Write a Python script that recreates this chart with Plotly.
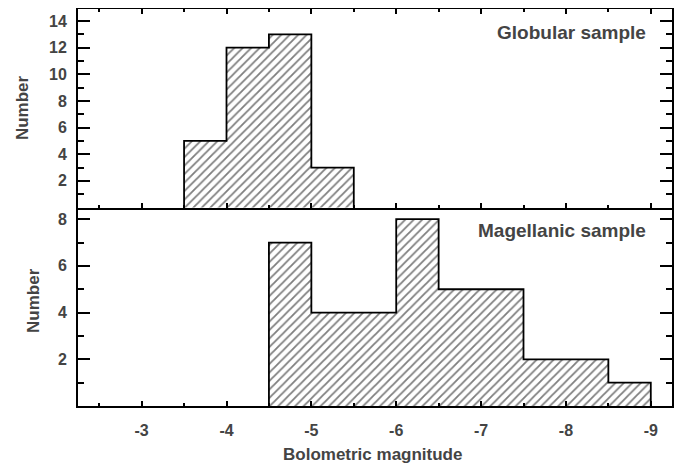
import plotly.graph_objects as go
from plotly.subplots import make_subplots

# ---- data ----
glob_edges = [-3.5, -4.0, -4.5, -5.0, -5.5]
glob_counts = [5, 12, 13, 3]
mag_edges = [-4.5, -5.0, -5.5, -6.0, -6.5, -7.0, -7.5, -8.0, -8.5, -9.0]
mag_counts = [7, 4, 4, 8, 5, 5, 2, 2, 1]
x_ticks = [-3, -4, -5, -6, -7, -8, -9]
x_ticklabels = ["-3", "-4", "-5", "-6", "-7", "-8", "-9"]
x_minor = [-2.5, -3.5, -4.5, -5.5, -6.5, -7.5, -8.5]
top_yticks = [2, 4, 6, 8, 10, 12, 14]
top_yminor = [1, 3, 5, 7, 9, 11, 13]
bot_yticks = [2, 4, 6, 8]
bot_yminor = [1, 3, 5, 7]

FONT = "Liberation Sans, Arial, Helvetica, sans-serif"
TXT = "#444444"

fig = make_subplots(rows=2, cols=1, shared_xaxes=True, vertical_spacing=0)


def add_hist(edges, counts, row):
    centers = [(a + b) / 2 for a, b in zip(edges[:-1], edges[1:])]
    fig.add_trace(go.Bar(
        x=centers, y=counts, width=0.5,
        marker=dict(color="white", line=dict(width=0),
                    pattern=dict(shape="/", fgcolor="black", bgcolor="white",
                                 size=6, solidity=0.3)),
        showlegend=False, hoverinfo="skip"), row=row, col=1)
    fig.add_trace(go.Scatter(
        x=[edges[0]] + list(edges), y=[0] + list(counts) + [0],
        mode="lines", line=dict(color="black", width=1.8, shape="hv"),
        showlegend=False, hoverinfo="skip"), row=row, col=1)


add_hist(glob_edges, glob_counts, 1)
add_hist(mag_edges, mag_counts, 2)

tickfont = dict(family=FONT, size=16, color=TXT, weight="bold")

common_x = dict(range=[-2.25, -9.25], tickvals=x_ticks, ticktext=x_ticklabels,
                ticks="inside", ticklen=5, tickwidth=1.5, tickcolor="black",
                showline=True, linecolor="black", linewidth=2,
                showgrid=False, zeroline=False,
                minor=dict(tickvals=x_minor, ticks="inside", ticklen=3,
                           tickwidth=1.5, tickcolor="black", showgrid=False))
fig.update_xaxes(**common_x, mirror="ticks", showticklabels=False, row=1, col=1)
fig.update_xaxes(**common_x, mirror=False, showticklabels=True, tickfont=tickfont,
                 ticklabelstandoff=9, row=2, col=1)

common_y = dict(ticks="inside", ticklen=12, tickwidth=1.5, tickcolor="black",
                showline=True, linecolor="black", linewidth=2, mirror="ticks",
                showgrid=False, zeroline=False, tickfont=tickfont,
                ticklabelstandoff=6)
fig.update_yaxes(**common_y, range=[0, 14.9], tickvals=top_yticks,
                 minor=dict(tickvals=top_yminor, ticks="inside", ticklen=6,
                            tickwidth=1.5, tickcolor="black", showgrid=False),
                 row=1, col=1)
fig.update_yaxes(**common_y, range=[0, 8.5], tickvals=bot_yticks,
                 minor=dict(tickvals=bot_yminor, ticks="inside", ticklen=6,
                            tickwidth=1.5, tickcolor="black", showgrid=False),
                 row=2, col=1)

ann_font = dict(family=FONT, size=19, color=TXT, weight="bold")
lab_font = dict(family=FONT, size=17, color=TXT, weight="bold")
# page body has an 8px margin, so the figure is shrunk by 8px and margins shifted
fig.update_layout(
    width=675, height=460,
    margin=dict(l=70, r=11, t=1, b=62, autoexpand=False),
    paper_bgcolor="white", plot_bgcolor="white",
    bargap=0,
    annotations=[
        dict(text="Globular sample", xref="paper", yref="paper", x=0.9596, y=0.942,
             xanchor="right", yanchor="middle", showarrow=False, font=ann_font),
        dict(text="Magellanic sample", xref="paper", yref="paper", x=0.9596, y=0.441,
             xanchor="right", yanchor="middle", showarrow=False, font=ann_font),
        dict(text="Bolometric magnitude", xref="paper", yref="paper", x=0.495, y=-0.123,
             xanchor="center", yanchor="middle", showarrow=False, font=lab_font),
        dict(text="Number", xref="paper", yref="paper", x=-0.0943, y=0.753,
             xanchor="center", yanchor="middle", textangle=-90, showarrow=False,
             font=lab_font),
        dict(text="Number", xref="paper", yref="paper", x=-0.0758, y=0.267,
             xanchor="center", yanchor="middle", textangle=-90, showarrow=False,
             font=lab_font),
    ],
)

fig.write_html("out.html")
